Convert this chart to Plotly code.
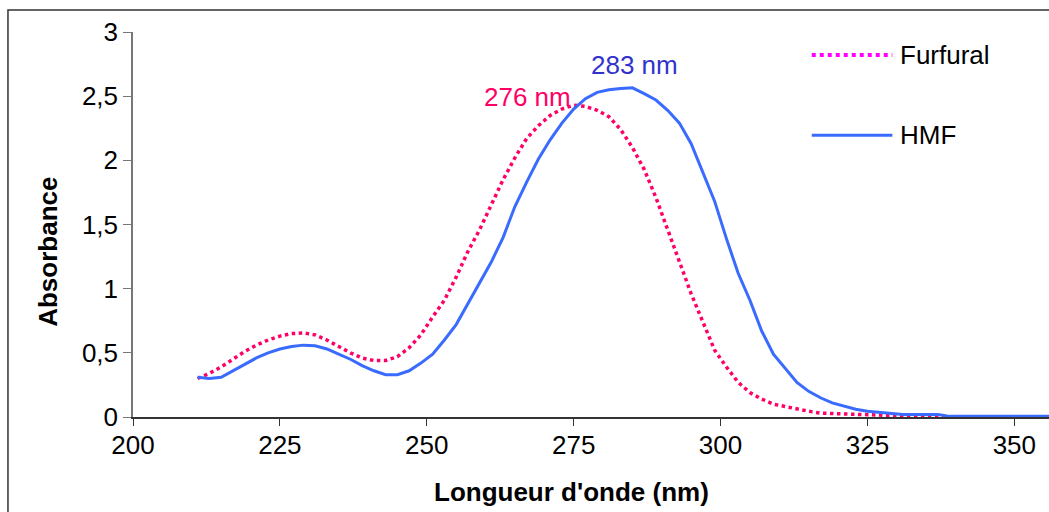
import plotly.graph_objects as go

wavelength = list(range(211, 359, 2))

hmf = [0.31, 0.30, 0.31, 0.36, 0.41, 0.46, 0.50, 0.53, 0.55, 0.56,
       0.555, 0.53, 0.49, 0.45, 0.40, 0.36, 0.33, 0.33, 0.36, 0.42,
       0.49, 0.60, 0.72, 0.88, 1.04, 1.21, 1.40, 1.64, 1.83, 2.01,
       2.16, 2.29, 2.40, 2.48, 2.53, 2.55, 2.56, 2.565, 2.52, 2.47,
       2.39, 2.29, 2.13, 1.91, 1.68, 1.39, 1.12, 0.91, 0.67, 0.49,
       0.38, 0.27, 0.20, 0.15, 0.11, 0.085, 0.06, 0.045, 0.035, 0.03,
       0.02, 0.02, 0.02, 0.02, 0.005, 0.005, 0.005, 0.005, 0.005, 0.005,
       0.005, 0.005, 0.005, 0.005]

furfural = [0.30, 0.34, 0.39, 0.45, 0.51, 0.56, 0.60, 0.63, 0.65, 0.655,
            0.64, 0.60, 0.55, 0.50, 0.46, 0.44, 0.44, 0.47, 0.54, 0.64,
            0.78, 0.91, 1.09, 1.29, 1.46, 1.66, 1.85, 2.02, 2.17, 2.27,
            2.35, 2.40, 2.43, 2.42, 2.39, 2.34, 2.24, 2.10, 1.93, 1.71,
            1.45, 1.21, 0.96, 0.74, 0.52, 0.39, 0.27, 0.19, 0.14, 0.10,
            0.08, 0.06, 0.045, 0.03, 0.027, 0.024, 0.02, 0.017, 0.015, 0.01,
            0.005, 0.0, 0.0, 0.0, 0.0, 0.0, 0.0, 0.0, 0.0, 0.0,
            0.0, 0.0, 0.0, 0.0]

x_ticks = [200, 225, 250, 275, 300, 325, 350]
y_ticks = [0, 0.5, 1, 1.5, 2, 2.5, 3]

peak_labels = [("276 nm", 267.1, 2.494, "#FF0066"), ("283 nm", 285.3, 2.743, "#3333CC")]

FONT = "Arial, Liberation Sans, sans-serif"
FS = 26
HMF_COLOR = "#3A6BFF"
FUR_COLOR = "#FF0066"

fig = go.Figure()
fig.add_trace(go.Scatter(x=wavelength, y=furfural, mode="lines", name="Furfural",
                         line=dict(color=FUR_COLOR, width=3.5, dash="dot"), showlegend=False))
fig.add_trace(go.Scatter(x=wavelength, y=hmf, mode="lines", name="HMF",
                         line=dict(color=HMF_COLOR, width=3), showlegend=False))

annotations = []
for text, xx, yy, col in peak_labels:
    annotations.append(dict(x=xx, y=yy, xref="x", yref="y", text=text, showarrow=False,
                            xanchor="center", yanchor="middle",
                            font=dict(family=FONT, size=FS, color=col)))

# axis titles
annotations.append(dict(x=0.479, y=-0.195, xref="paper", yref="paper",
                        text="<b>Longueur d'onde (nm)</b>", showarrow=False,
                        xanchor="center", yanchor="middle",
                        font=dict(family=FONT, size=FS, color="black")))
annotations.append(dict(x=-0.0928, y=0.429, xref="paper", yref="paper",
                        text="<b>Absorbance</b>", showarrow=False, textangle=-90,
                        xanchor="center", yanchor="middle",
                        font=dict(family=FONT, size=FS, color="black")))

# legend texts
annotations.append(dict(x=0.835, y=0.940, xref="paper", yref="paper", text="Furfural",
                        showarrow=False, xanchor="left", yanchor="middle",
                        font=dict(family=FONT, size=FS, color="black")))
annotations.append(dict(x=0.835, y=0.732, xref="paper", yref="paper", text="HMF",
                        showarrow=False, xanchor="left", yanchor="middle",
                        font=dict(family=FONT, size=FS, color="black")))

shapes = [
    dict(type="line", xref="paper", yref="paper", x0=0.741, x1=0.829, y0=0.940, y1=0.940,
         line=dict(color="#FF00FF", width=4, dash="dot")),
    dict(type="line", xref="paper", yref="paper", x0=0.741, x1=0.829, y0=0.732, y1=0.732,
         line=dict(color=HMF_COLOR, width=3)),
    dict(type="rect", xref="paper", yref="paper", x0=-0.1365, x1=1.05, y0=-0.4, y1=1.057,
         line=dict(color="#333333", width=1.5), layer="below"),
]

fig.update_layout(
    width=1049, height=512,
    margin=dict(l=133, r=0, t=32, b=95),
    paper_bgcolor="white", plot_bgcolor="white",
    separators=", ",
    font=dict(family=FONT, size=FS, color="black"),
    annotations=annotations, shapes=shapes,
    showlegend=False,
)
fig.update_xaxes(range=[200, 355.9], tickvals=x_ticks, ticks="outside", ticklen=7,
                 tickcolor="#333333", showline=True, linecolor="#333333", linewidth=1.5,
                 showgrid=False, zeroline=False, tickfont=dict(size=FS, family=FONT),
                 ticklabelstandoff=-3)
fig.update_yaxes(range=[0, 3], tickvals=y_ticks, ticks="outside", ticklen=8,
                 tickcolor="#777777", showline=True, linecolor="#777777", linewidth=1.5,
                 showgrid=False, zeroline=False, tickfont=dict(size=FS, family=FONT))

fig.write_html("out.html", config={"displayModeBar": False},
               post_script="document.body.style.margin='0';document.body.style.overflow='hidden';")
